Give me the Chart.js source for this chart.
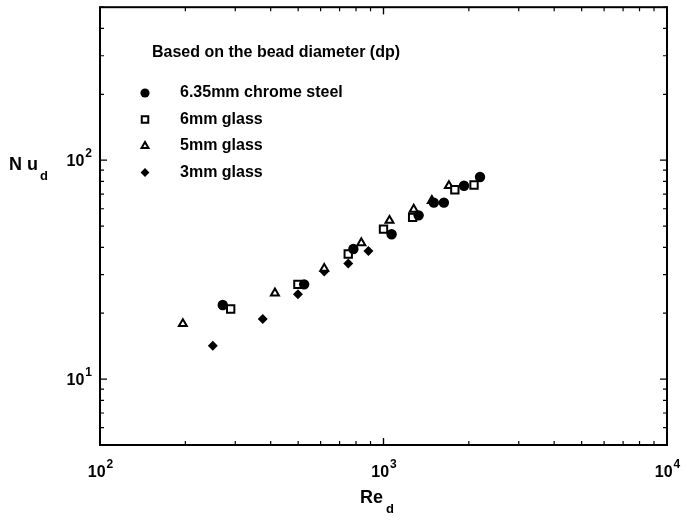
<!DOCTYPE html>
<html>
<head>
<meta charset="utf-8">
<script src="https://cdn.jsdelivr.net/npm/chart.js@4"></script>
<style>
  body { margin: 0; background: #fff; }
  #wrap { width: 689px; height: 522px; }
</style>
</head>
<body>
<div id="wrap"><canvas id="nuChart"></canvas></div>
<script>
// Re_d / Nu_d
const steelRe = [271, 525, 783, 1068, 1330, 1505, 1633, 1923, 2190];
const steelNu = [21.8, 27.1, 39.3, 45.9, 56, 64, 64, 76.4, 83.8];
const glass6Re = [289, 499, 751, 1000, 1267, 1785, 2086];
const glass6Nu = [20.9, 27.1, 37.3, 48.4, 54.8, 73.3, 77];
const glass5Re = [196, 414, 618, 835, 1050, 1278, 1481, 1701];
const glass5Nu = [17.9, 24.7, 32, 41.9, 53, 59.6, 65.3, 76.4];
const glass3Re = [250, 375, 499, 618, 751, 885];
const glass3Nu = [14.2, 18.8, 24.4, 31, 33.7, 38.5];

const legendTitle = 'Based on the bead diameter (dp)';
const seriesNames = ['6.35mm chrome steel', '6mm glass', '5mm glass', '3mm glass'];
const xDecades = [100, 1000, 10000];
const yDecades = [10, 100];

function pts(xs, ys) {
    return xs.map((x, i) => ({x: x, y: ys[i]}));
}

const styles = [
    {pointStyle: 'circle', pointRadius: 5.2, pointBackgroundColor: '#000', pointBorderWidth: 0},
    {pointStyle: 'rect', pointRadius: 5.2, pointBackgroundColor: '#fff', pointBorderWidth: 2},
    {pointStyle: 'triangle', pointRadius: 4.6, pointBackgroundColor: '#fff', pointBorderWidth: 2},
    {pointStyle: 'rectRot', pointRadius: 5, pointBackgroundColor: '#000', pointBorderWidth: 0}
];
const sets = [pts(steelRe, steelNu), pts(glass6Re, glass6Nu), pts(glass5Re, glass5Nu), pts(glass3Re, glass3Nu)];

const F = '"Liberation Sans", Arial, sans-serif';

const frame = {
    id: 'frame',
    afterDraw(chart) {
        const c = chart.ctx, a = chart.chartArea;
        const xs = chart.scales.x, ys = chart.scales.y;
        c.save();
        c.strokeStyle = '#000';
        c.lineWidth = 2;
        c.strokeRect(a.left, a.top, a.right - a.left, a.bottom - a.top);
        c.lineWidth = 1.2;
        // x ticks, top and bottom
        for (let d = 100; d < 10000; d *= 10) {
            for (let m = 1; m <= 10; m++) {
                const px = xs.getPixelForValue(d * m);
                const len = (m === 1 || m === 10) ? 7 : 4;
                c.beginPath();
                c.moveTo(px, a.bottom); c.lineTo(px, a.bottom - len);
                c.moveTo(px, a.top); c.lineTo(px, a.top + len);
                c.stroke();
            }
        }
        // y ticks, left and right
        for (let d = 1; d <= 100; d *= 10) {
            for (let m = 1; m <= 9; m++) {
                const v = d * m;
                if (v < 5 || v > 500) continue;
                const py = ys.getPixelForValue(v);
                const len = m === 1 ? 7 : 4;
                c.beginPath();
                c.moveTo(a.left, py); c.lineTo(a.left + len, py);
                c.moveTo(a.right, py); c.lineTo(a.right - len, py);
                c.stroke();
            }
        }
        c.fillStyle = '#000';
        c.textBaseline = 'alphabetic';
        c.textAlign = 'left';
        // x tick labels
        xDecades.forEach(v => {
            const px = xs.getPixelForValue(v);
            const e = String(Math.round(Math.log10(v)));
            c.font = 'bold 16px ' + F;
            const w1 = c.measureText('10').width;
            c.font = 'bold 12px ' + F;
            const w2 = c.measureText(e).width;
            const x0 = px - (w1 + w2) / 2;
            c.font = 'bold 16px ' + F;
            c.fillText('10', x0, a.bottom + 32);
            c.font = 'bold 12px ' + F;
            c.fillText(e, x0 + w1 + 1, a.bottom + 23);
        });
        // y tick labels
        yDecades.forEach(v => {
            const py = ys.getPixelForValue(v);
            const e = String(Math.round(Math.log10(v)));
            c.font = 'bold 12px ' + F;
            const w2 = c.measureText(e).width;
            c.font = 'bold 16px ' + F;
            const w1 = c.measureText('10').width;
            const x0 = a.left - 9 - w2 - w1;
            c.fillText('10', x0, py + 6);
            c.font = 'bold 12px ' + F;
            c.fillText(e, x0 + w1 + 1, py - 3);
        });
        // axis titles
        c.font = 'bold 18px ' + F;
        c.fillText('Re', 360, 503);
        c.font = 'bold 13px ' + F;
        c.fillText('d', 386, 513);
        c.font = 'bold 18px ' + F;
        c.fillText('N u', 9, 170);
        c.font = 'bold 13px ' + F;
        c.fillText('d', 40, 180);
        // legend
        c.font = 'bold 16px ' + F;
        c.textBaseline = 'middle';
        c.fillText(legendTitle, 152, 53);
        seriesNames.forEach((name, i) => {
            const y = 93 + i * 26.5;
            const s = styles[i];
            c.fillStyle = s.pointBackgroundColor;
            c.strokeStyle = '#000';
            c.lineWidth = s.pointBorderWidth;
            Chart.helpers.drawPoint(c, {pointStyle: s.pointStyle, radius: s.pointRadius - 0.6, borderWidth: s.pointBorderWidth}, 145, y);
            c.fillStyle = '#000';
            c.font = 'bold 16px ' + F;
            c.fillText(name, 180, y);
        });
        c.restore();
    }
};

new Chart(document.getElementById('nuChart'), {
    type: 'scatter',
    data: {
        datasets: sets.map((d, i) => Object.assign({
            label: seriesNames[i],
            data: d,
            pointBorderColor: '#000',
            showLine: false
        }, styles[i]))
    },
    options: {
        responsive: true,
        maintainAspectRatio: false,
        animation: false,
        layout: {padding: {left: 100, right: 22, top: 5, bottom: 77}},
        scales: {
            x: {type: 'logarithmic', min: 100, max: 10000, display: false},
            y: {type: 'logarithmic', min: 5, max: 500, display: false}
        },
        plugins: {
            legend: {display: false},
            tooltip: {enabled: false}
        }
    },
    plugins: [frame]
});
</script>
</body>
</html>
